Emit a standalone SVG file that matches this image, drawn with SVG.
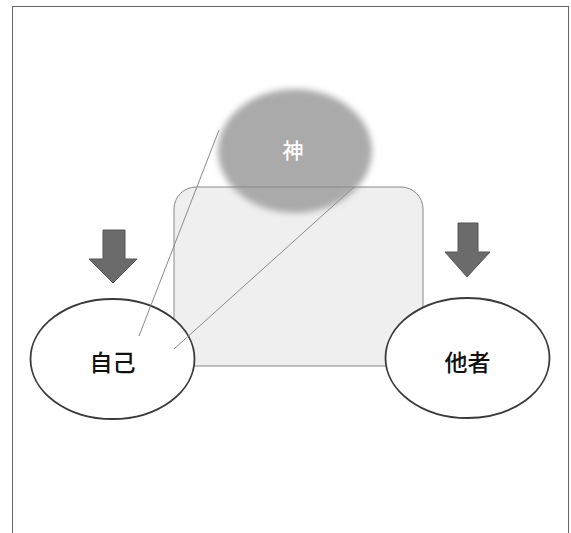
<svg xmlns="http://www.w3.org/2000/svg" width="571" height="533" viewBox="0 0 571 533">
<style>
.node{fill:#ffffff;stroke:#3a3a3a;stroke-width:1.8}
.lbl{font-family:"Noto Sans CJK JP","Liberation Sans",sans-serif;font-size:23px;font-weight:500;text-anchor:middle;dominant-baseline:central;fill:#111111}
.arrow{fill:#6b6b6b;stroke:#555555;stroke-width:1}
.conn{stroke:#8a8a8a;stroke-width:1;fill:none}
</style>
<defs>
<filter id="blur" x="-20%" y="-20%" width="140%" height="140%"><feGaussianBlur stdDeviation="3"/></filter>
</defs>
<rect x="0" y="0" width="571" height="533" fill="#ffffff"/>
<rect x="12.5" y="6.5" width="556" height="540" fill="none" stroke="#666666" stroke-width="1"/>
<g id="field">
<rect x="174" y="187" width="249" height="179" rx="22" fill="#efefef"/>
</g>
<g id="god">
<ellipse cx="295" cy="151" rx="77" ry="62" fill="#aaaaaa" filter="url(#blur)"/>
<text x="293" y="149" class="lbl" style="fill:#ffffff;font-size:21px">神</text>
</g>
<rect x="174" y="187" width="249" height="179" rx="22" fill="none" stroke="#888888" stroke-width="1"/>
<g id="arrow-left"><polygon class="arrow" points="103,230 125,230 125,259 137,259 113,283 89,259 103,259"/></g>
<g id="arrow-right"><polygon class="arrow" points="458,223 478,223 478,252 490,252 467,277 445,252 458,252"/></g>
<g id="self">
<ellipse class="node" cx="112.5" cy="359" rx="82" ry="60"/>
<text x="112.5" y="361" class="lbl">自己</text>
</g>
<g id="other">
<ellipse class="node" cx="467.5" cy="358" rx="82" ry="60"/>
<text x="467.5" y="360.5" class="lbl">他者</text>
</g>
<g id="connectors">
<line class="conn" x1="139" y1="336" x2="219" y2="130"/>
<line class="conn" x1="174" y1="349" x2="354" y2="187"/>
</g>
</svg>
